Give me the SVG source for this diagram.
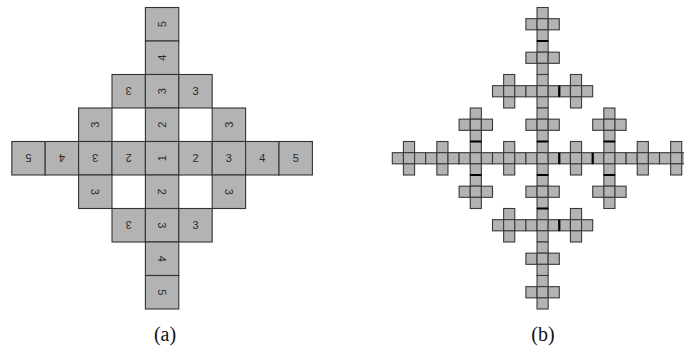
<svg xmlns="http://www.w3.org/2000/svg" xmlns:xlink="http://www.w3.org/1999/xlink" width="684" height="349" viewBox="0 0 684 349">
<style>
.c{fill:#b3b3b3;stroke:#333;stroke-width:1.1}
.s{fill:#b3b3b3;stroke:#3a3a3a;stroke-width:1.1}
.t{font-family:"Liberation Sans",Arial,sans-serif;font-size:11px;fill:#2a2a2a;text-anchor:middle;dominant-baseline:central}
.cap{font-family:"Liberation Serif","Times New Roman",serif;font-size:20px;fill:#111;text-anchor:middle}
.k{stroke:#000;stroke-width:2.2;fill:none}
</style>
<defs>
<g id="plus">
<rect class="s" x="11.133" y="0" width="11.133" height="11.167"/>
<rect class="s" x="0" y="11.167" width="11.133" height="11.167"/>
<rect class="s" x="11.133" y="11.167" width="11.133" height="11.167"/>
<rect class="s" x="22.267" y="11.167" width="11.133" height="11.167"/>
<rect class="s" x="11.133" y="22.333" width="11.133" height="11.167"/>
</g>
</defs>
<rect width="684" height="349" fill="#fff"/>
<g id="diagram-a">
<g id="a-r-4c0"><rect class="c" x="145.4" y="7.5" width="33.4" height="33.5"/><text class="t" transform="rotate(-90 162.1 24.25)" x="162.1" y="24.25">5</text></g>
<g id="a-r-3c0"><rect class="c" x="145.4" y="41" width="33.4" height="33.5"/><text class="t" transform="rotate(-90 162.1 57.75)" x="162.1" y="57.75">4</text></g>
<g id="a-r-2c-1"><rect class="c" x="112" y="74.5" width="33.4" height="33.5"/><text class="t" transform="rotate(180 128.7 91.25)" x="128.7" y="91.25">3</text></g>
<g id="a-r-2c0"><rect class="c" x="145.4" y="74.5" width="33.4" height="33.5"/><text class="t" transform="rotate(-90 162.1 91.25)" x="162.1" y="91.25">3</text></g>
<g id="a-r-2c1"><rect class="c" x="178.8" y="74.5" width="33.4" height="33.5"/><text class="t" x="195.5" y="91.25">3</text></g>
<g id="a-r-1c-2"><rect class="c" x="78.6" y="108" width="33.4" height="33.5"/><text class="t" transform="rotate(-90 95.3 124.75)" x="95.3" y="124.75">3</text></g>
<g id="a-r-1c0"><rect class="c" x="145.4" y="108" width="33.4" height="33.5"/><text class="t" transform="rotate(-90 162.1 124.75)" x="162.1" y="124.75">2</text></g>
<g id="a-r-1c2"><rect class="c" x="212.2" y="108" width="33.4" height="33.5"/><text class="t" transform="rotate(-90 228.9 124.75)" x="228.9" y="124.75">3</text></g>
<g id="a-r0c-4"><rect class="c" x="11.8" y="141.5" width="33.4" height="33.5"/><text class="t" transform="rotate(180 28.5 158.25)" x="28.5" y="158.25">5</text></g>
<g id="a-r0c-3"><rect class="c" x="45.2" y="141.5" width="33.4" height="33.5"/><text class="t" transform="rotate(180 61.9 158.25)" x="61.9" y="158.25">4</text></g>
<g id="a-r0c-2"><rect class="c" x="78.6" y="141.5" width="33.4" height="33.5"/><text class="t" transform="rotate(180 95.3 158.25)" x="95.3" y="158.25">3</text></g>
<g id="a-r0c-1"><rect class="c" x="112" y="141.5" width="33.4" height="33.5"/><text class="t" transform="rotate(180 128.7 158.25)" x="128.7" y="158.25">2</text></g>
<g id="a-r0c0"><rect class="c" x="145.4" y="141.5" width="33.4" height="33.5"/><text class="t" transform="rotate(-90 162.1 158.25)" x="162.1" y="158.25">1</text></g>
<g id="a-r0c1"><rect class="c" x="178.8" y="141.5" width="33.4" height="33.5"/><text class="t" x="195.5" y="158.25">2</text></g>
<g id="a-r0c2"><rect class="c" x="212.2" y="141.5" width="33.4" height="33.5"/><text class="t" x="228.9" y="158.25">3</text></g>
<g id="a-r0c3"><rect class="c" x="245.6" y="141.5" width="33.4" height="33.5"/><text class="t" x="262.3" y="158.25">4</text></g>
<g id="a-r0c4"><rect class="c" x="279" y="141.5" width="33.4" height="33.5"/><text class="t" x="295.7" y="158.25">5</text></g>
<g id="a-r1c-2"><rect class="c" x="78.6" y="175" width="33.4" height="33.5"/><text class="t" transform="rotate(90 95.3 191.75)" x="95.3" y="191.75">3</text></g>
<g id="a-r1c0"><rect class="c" x="145.4" y="175" width="33.4" height="33.5"/><text class="t" transform="rotate(90 162.1 191.75)" x="162.1" y="191.75">2</text></g>
<g id="a-r1c2"><rect class="c" x="212.2" y="175" width="33.4" height="33.5"/><text class="t" transform="rotate(90 228.9 191.75)" x="228.9" y="191.75">3</text></g>
<g id="a-r2c-1"><rect class="c" x="112" y="208.5" width="33.4" height="33.5"/><text class="t" transform="rotate(180 128.7 225.25)" x="128.7" y="225.25">3</text></g>
<g id="a-r2c0"><rect class="c" x="145.4" y="208.5" width="33.4" height="33.5"/><text class="t" transform="rotate(90 162.1 225.25)" x="162.1" y="225.25">3</text></g>
<g id="a-r2c1"><rect class="c" x="178.8" y="208.5" width="33.4" height="33.5"/><text class="t" x="195.5" y="225.25">3</text></g>
<g id="a-r3c0"><rect class="c" x="145.4" y="242" width="33.4" height="33.5"/><text class="t" transform="rotate(90 162.1 258.75)" x="162.1" y="258.75">4</text></g>
<g id="a-r4c0"><rect class="c" x="145.4" y="275.5" width="33.4" height="33.5"/><text class="t" transform="rotate(90 162.1 292.25)" x="162.1" y="292.25">5</text></g>
</g>
<g id="diagram-b">
<g id="b-r-4c0"><use xlink:href="#plus" x="525.9" y="7.5"/></g>
<g id="b-r-3c0"><use xlink:href="#plus" x="525.9" y="41"/></g>
<g id="b-r-2c-1"><use xlink:href="#plus" x="492.5" y="74.5"/></g>
<g id="b-r-2c0"><use xlink:href="#plus" x="525.9" y="74.5"/></g>
<g id="b-r-2c1"><use xlink:href="#plus" x="559.3" y="74.5"/></g>
<g id="b-r-1c-2"><use xlink:href="#plus" x="459.1" y="108"/></g>
<g id="b-r-1c0"><use xlink:href="#plus" x="525.9" y="108"/></g>
<g id="b-r-1c2"><use xlink:href="#plus" x="592.7" y="108"/></g>
<g id="b-r0c-4"><use xlink:href="#plus" x="392.3" y="141.5"/></g>
<g id="b-r0c-3"><use xlink:href="#plus" x="425.7" y="141.5"/></g>
<g id="b-r0c-2"><use xlink:href="#plus" x="459.1" y="141.5"/></g>
<g id="b-r0c-1"><use xlink:href="#plus" x="492.5" y="141.5"/></g>
<g id="b-r0c0"><use xlink:href="#plus" x="525.9" y="141.5"/></g>
<g id="b-r0c1"><use xlink:href="#plus" x="559.3" y="141.5"/></g>
<g id="b-r0c2"><use xlink:href="#plus" x="592.7" y="141.5"/></g>
<g id="b-r0c3"><use xlink:href="#plus" x="626.1" y="141.5"/></g>
<g id="b-r0c4"><use xlink:href="#plus" x="659.5" y="141.5"/></g>
<g id="b-r1c-2"><use xlink:href="#plus" x="459.1" y="175"/></g>
<g id="b-r1c0"><use xlink:href="#plus" x="525.9" y="175"/></g>
<g id="b-r1c2"><use xlink:href="#plus" x="592.7" y="175"/></g>
<g id="b-r2c-1"><use xlink:href="#plus" x="492.5" y="208.5"/></g>
<g id="b-r2c0"><use xlink:href="#plus" x="525.9" y="208.5"/></g>
<g id="b-r2c1"><use xlink:href="#plus" x="559.3" y="208.5"/></g>
<g id="b-r3c0"><use xlink:href="#plus" x="525.9" y="242"/></g>
<g id="b-r4c0"><use xlink:href="#plus" x="525.9" y="275.5"/></g>
</g>
<g id="connectors">
<path class="k" d="M537.03 41H548.17M470.23 141.5H481.37M537.03 141.5H548.17M603.83 141.5H614.97M470.23 175H481.37M537.03 175H548.17M603.83 175H614.97M537.03 208.5H548.17M559.3 85.67V96.83M559.3 152.67V163.83M592.7 152.67V163.83M559.3 219.67V230.83"/>
</g>
<g id="captions">
<text class="cap" x="165" y="341">(a)</text>
<text class="cap" x="543" y="341">(b)</text>
</g>
</svg>
